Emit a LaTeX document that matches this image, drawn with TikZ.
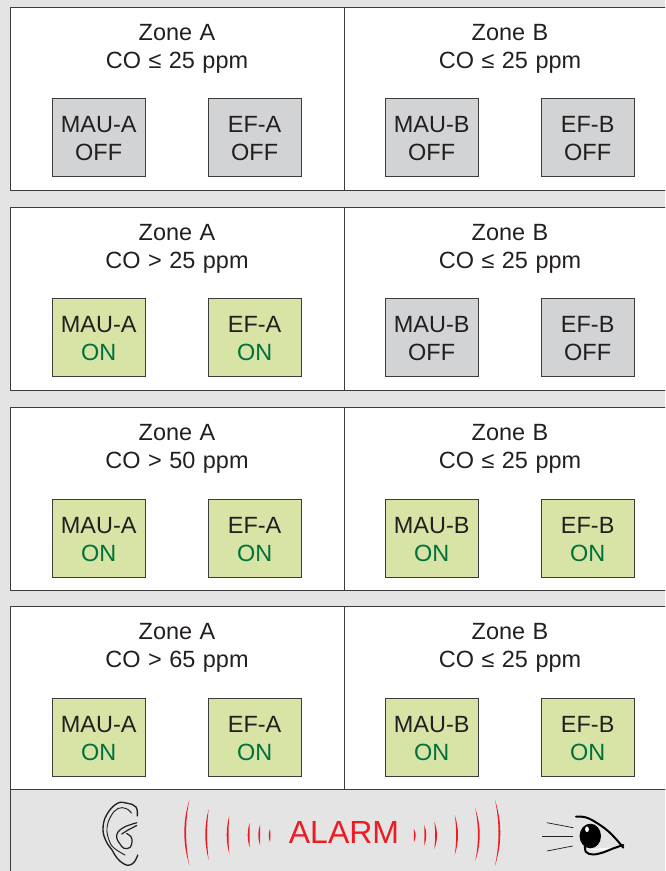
\documentclass[tikz,border=0pt]{standalone}
\usepackage{fontspec}
\setmainfont[WordSpace=1.15]{Liberation Sans}
\usetikzlibrary{positioning}
\definecolor{bgGray}{HTML}{E4E4E4}
\definecolor{frameInk}{HTML}{3C3C3C}
\definecolor{textInk}{HTML}{231F20}
\definecolor{offFill}{HTML}{D1D3D4}
\definecolor{onFill}{HTML}{D7E4A6}
\definecolor{onGreen}{HTML}{00703C}
\definecolor{alarmRed}{HTML}{ED1C24}
\tikzset{
  zonebox/.style   = {draw=frameInk, line width=0.75pt, fill=white, outer sep=0pt,
                      minimum width=250.5pt, minimum height=137.25pt, inner sep=0pt},
  zoneright/.style = {zonebox, minimum width=249pt},
  zonetitle/.style = {align=center, inner sep=0pt, text=textInk,
                      font=\fontsize{17.6}{21.5}\selectfont},
  unitbox/.style   = {draw=frameInk, line width=0.7pt, outer sep=0pt, inner sep=0pt,
                      minimum width=70pt, minimum height=58.5pt, align=center,
                      text=textInk, text height=36pt, font=\fontsize{17.6}{21.5}\selectfont},
  offbox/.style    = {unitbox, fill=offFill},
  onbox/.style     = {unitbox, fill=onFill},
  alarmband/.style = {draw=frameInk, line width=0.75pt, fill=bgGray, outer sep=0pt,
                      minimum width=501pt, minimum height=70pt},
  earline/.style   = {draw=textInk, line width=1pt, line cap=round, line join=round},
  lash/.style      = {draw=textInk, line width=0.55pt},
  lid/.style       = {draw=black, line width=1.5pt, line cap=round, line join=round},
}
\newcommand{\onstate}{\textcolor{onGreen}{ON}}

\begin{document}
\begin{tikzpicture}[x=0.75pt, y=-0.75pt]
  \useasboundingbox (0,0) rectangle (665,871);
  \clip (0,0) rectangle (665,871);
  \fill[bgGray] (0,0) rectangle (665,871);

  % first row
  \node[zonebox, anchor=north west] (zoneA1) at (10,7) {};
  \node[zoneright, right=0pt of zoneA1] (zoneB1) {};
  \node[zonetitle, below=12.6pt of zoneA1.north] (titleA1) {Zone A\\CO ≤ 25 ppm};
  \node[zonetitle, below=12.6pt of zoneB1.north] (titleB1) {Zone B\\CO ≤ 25 ppm};
  \node[offbox, below right=68.25pt and 31.5pt of zoneA1.north west] (mauA1) {MAU-A\\OFF};
  \node[offbox, right=47pt of mauA1] (efA1) {EF-A\\OFF};
  \node[offbox, below right=68.25pt and 30.75pt of zoneB1.north west] (mauB1) {MAU-B\\OFF};
  \node[offbox, right=47pt of mauB1] (efB1) {EF-B\\OFF};

  % second row
  \node[zonebox, below=12.75pt of zoneA1] (zoneA2) {};
  \node[zoneright, right=0pt of zoneA2] (zoneB2) {};
  \node[zonetitle, below=12.6pt of zoneA2.north] (titleA2) {Zone A\\CO > 25 ppm};
  \node[zonetitle, below=12.6pt of zoneB2.north] (titleB2) {Zone B\\CO ≤ 25 ppm};
  \node[onbox, below right=68.25pt and 31.5pt of zoneA2.north west] (mauA2) {MAU-A\\\onstate};
  \node[onbox, right=47pt of mauA2] (efA2) {EF-A\\\onstate};
  \node[offbox, below right=68.25pt and 30.75pt of zoneB2.north west] (mauB2) {MAU-B\\OFF};
  \node[offbox, right=47pt of mauB2] (efB2) {EF-B\\OFF};

  % third row
  \node[zonebox, below=12.75pt of zoneA2] (zoneA3) {};
  \node[zoneright, right=0pt of zoneA3] (zoneB3) {};
  \node[zonetitle, below=12.6pt of zoneA3.north] (titleA3) {Zone A\\CO > 50 ppm};
  \node[zonetitle, below=12.6pt of zoneB3.north] (titleB3) {Zone B\\CO ≤ 25 ppm};
  \node[onbox, below right=69pt and 31.5pt of zoneA3.north west] (mauA3) {MAU-A\\\onstate};
  \node[onbox, right=47pt of mauA3] (efA3) {EF-A\\\onstate};
  \node[onbox, below right=69pt and 30.75pt of zoneB3.north west] (mauB3) {MAU-B\\\onstate};
  \node[onbox, right=47pt of mauB3] (efB3) {EF-B\\\onstate};

  % fourth row and the alarm band
  \node[zonebox, below=12pt of zoneA3] (zoneA4) {};
  \node[zoneright, right=0pt of zoneA4] (zoneB4) {};
  \node[zonetitle, below=12.6pt of zoneA4.north] (titleA4) {Zone A\\CO > 65 ppm};
  \node[zonetitle, below=12.6pt of zoneB4.north] (titleB4) {Zone B\\CO ≤ 25 ppm};
  \node[onbox, below right=69pt and 31.5pt of zoneA4.north west] (mauA4) {MAU-A\\\onstate};
  \node[onbox, right=47pt of mauA4] (efA4) {EF-A\\\onstate};
  \node[onbox, below right=69pt and 30.75pt of zoneB4.north west] (mauB4) {MAU-B\\\onstate};
  \node[onbox, right=47pt of mauB4] (efB4) {EF-B\\\onstate};
  \node[alarmband, anchor=north west] (band) at (zoneA4.south west) {};
  \node[text=alarmRed, font=\fontsize{24}{28}\selectfont, inner sep=0pt] (alarm) at (344,832) {ALARM};

  % sound waves
  \foreach \xa/\xb/\ya/\yb in {189.3/184.3/800/865, 208.7/205.3/809/860, 229.3/226.7/815.7/854,
      249.7/247.7/822.7/847.7, 260/258.3/825/845, 270/268.7/829/842,
      414/415.7/829/842, 424.3/426.3/825/845.7, 434.3/437/821.7/849,
      454.7/458/815/855, 475.3/479.7/808.3/861, 495/500.3/800/865.7} {
    \pgfmathsetmacro{\xo}{\xa+(\xb-\xa)*4/3}
    \pgfmathsetmacro{\xi}{\xo-sign(\xb-\xa)*2.4}
    \pgfmathsetmacro{\yc}{\ya+(\yb-\ya)/3}
    \pgfmathsetmacro{\yd}{\ya+(\yb-\ya)*2/3}
    \fill[alarmRed] (\xa,\ya) .. controls (\xo,\yc) and (\xo,\yd) .. (\xa,\yb)
      .. controls (\xi,\yd) and (\xi,\yc) .. (\xa,\ya) -- cycle;
  }

  % ear
  \draw[earline] plot[smooth, tension=0.7] coordinates {(137.3,816) (136,807) (127,803.2) (117,803.5) (106.5,815) (103,829)
    (106,841) (112,850) (117,858) (124,864) (130,865) (135,861) (137.7,855)};
  \draw[earline, line width=0.7pt] plot[smooth, tension=0.7] coordinates {(131.5,813) (126,808.5) (118,808.5) (111,816)
    (107,828) (109,840) (114,848) (125,855)};
  \draw[earline, line width=0.9pt] plot[smooth, tension=0.6] coordinates {(136.7,822.7) (125,826.7) (118,832) (116.7,838)
    (120,844) (124,848.3) (130,847.5) (132,842) (131,836.7) (126.7,833.5)};
  \draw[earline, line width=0.9pt] (136.7,825.5) -- (128,830) -- (121.7,834);

  % eye
  \draw[lash] (547,822.7) -- (573.3,827.7);
  \draw[lash] (542,836.7) -- (572.7,836.7);
  \draw[lash] (547,851) -- (572.7,846);
  \fill[black] (590.3,836) ellipse [x radius=10.7, y radius=12.3];
  \fill[white] (587,829.3) ellipse [x radius=1.9, y radius=2.8];
  \fill[white] (588,848.8) .. controls (598,851.5) and (606,850) .. (612,847.5)
    .. controls (604,848) and (596,849) .. (588,848.8) -- cycle;
  \draw[lid] plot[smooth, tension=0.6] coordinates {(576,816.7) (583,816.8) (590,819) (600,825) (608,831) (616,839) (623.3,847.7)};
  \draw[lid] plot[smooth, tension=0.6] coordinates {(585,845.5) (586,852) (593,854.5) (603,852.5) (613,848.5) (623.3,845)};
\end{tikzpicture}
\end{document}
